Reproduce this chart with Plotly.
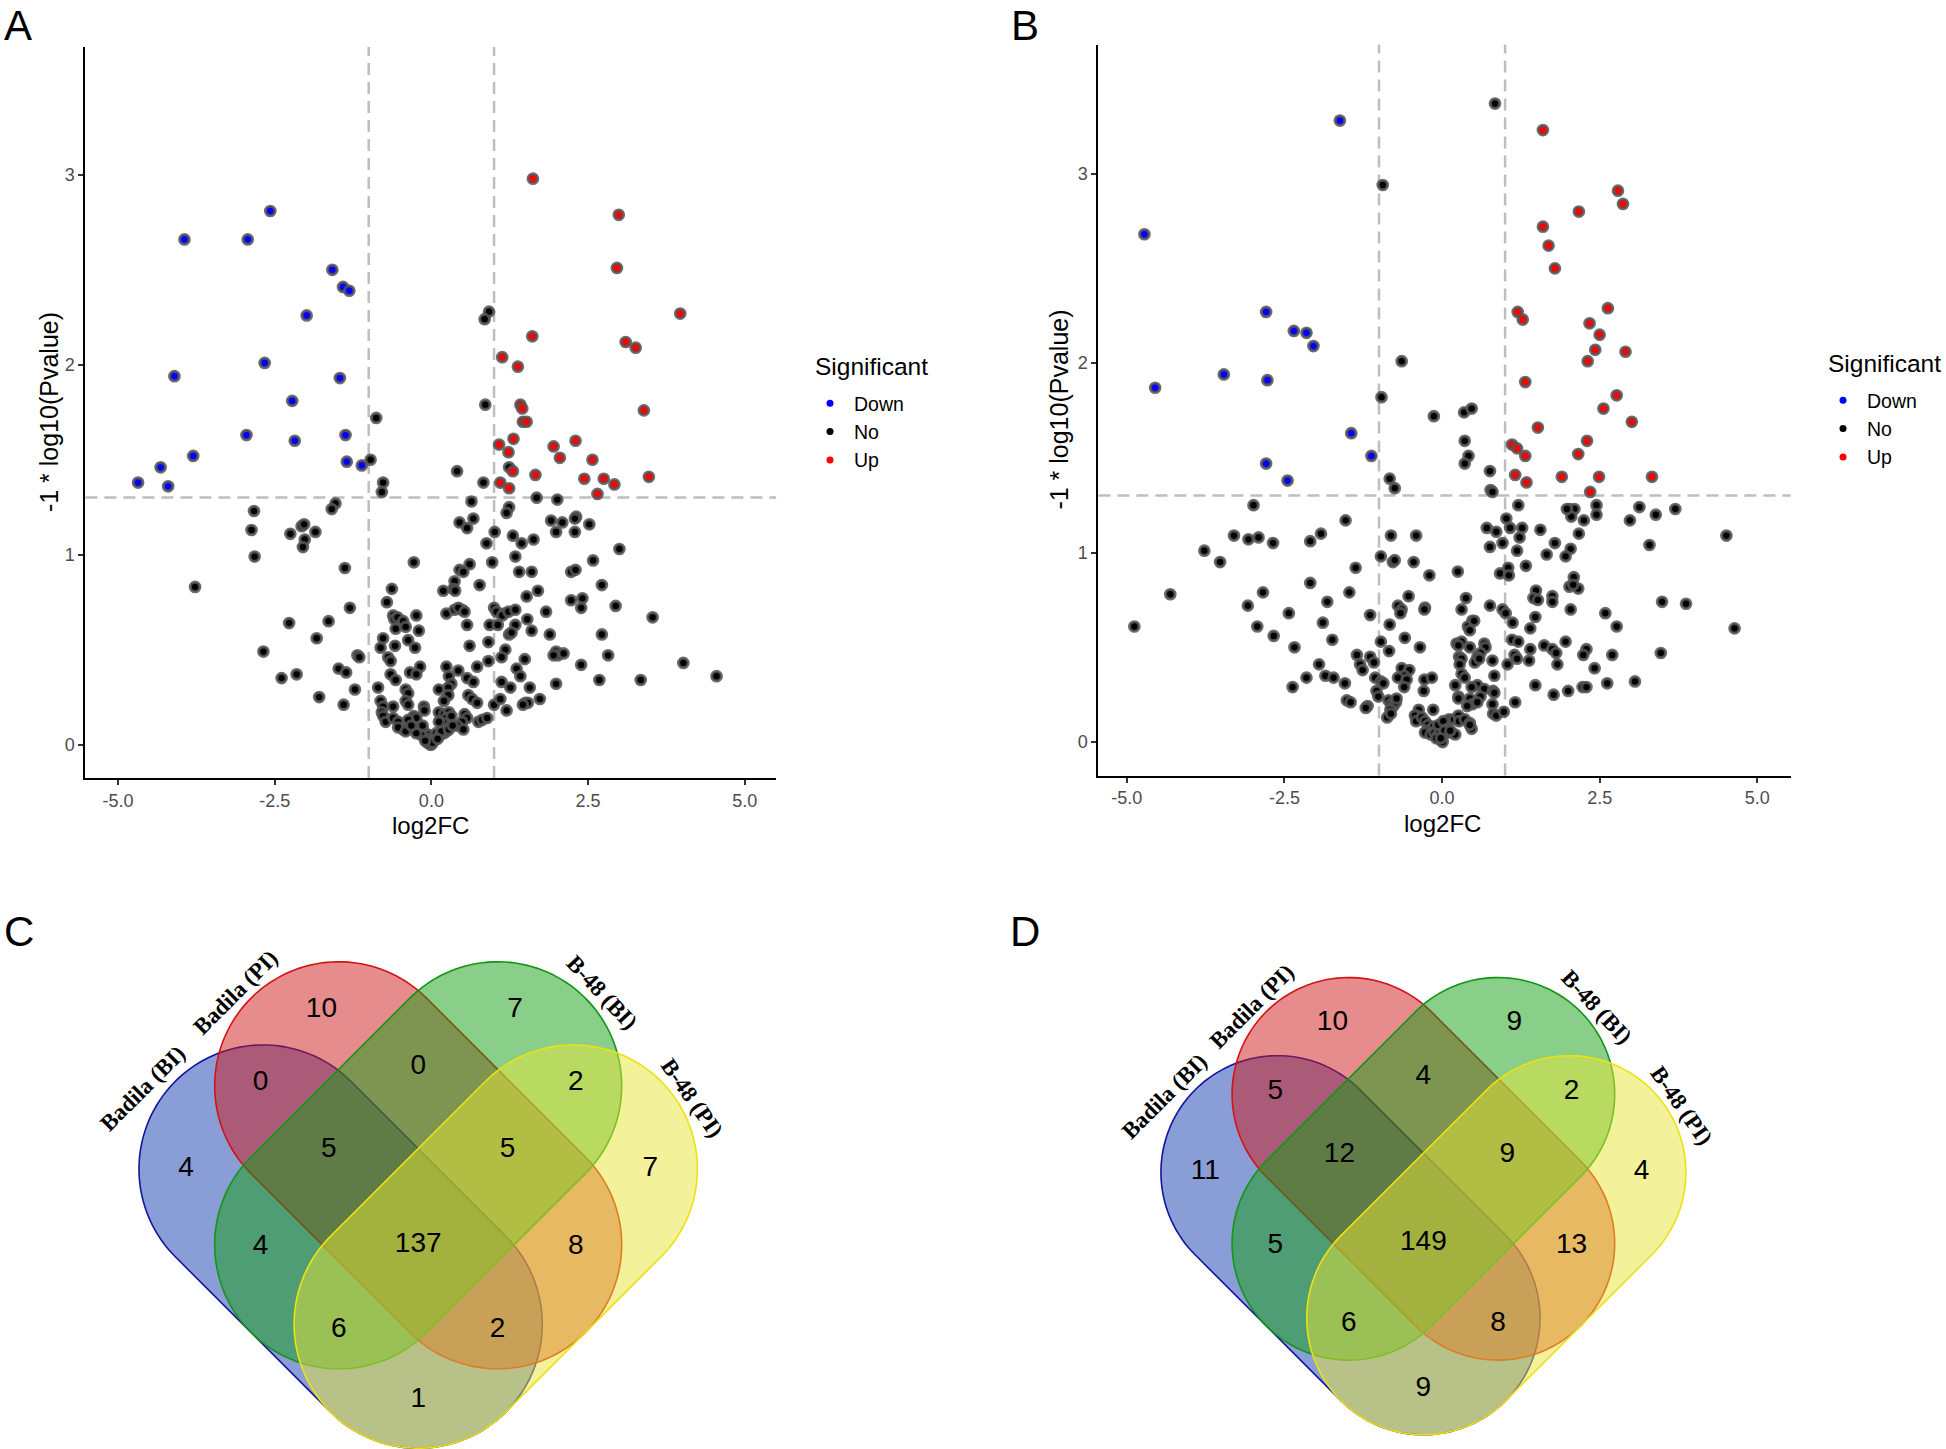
import numpy as np
import plotly.graph_objects as go

W, H = 1946, 1449

# ---------------- DATA ----------------
# Panel A volcano: (log2FC, -log10 P)
A_down = [(-3.94,2.66),(-2.93,2.66),(-2.57,2.81),(-1.58,2.50),(-1.41,2.41),(-1.31,2.39),(-1.99,2.26),
          (-2.66,2.01),(-4.10,1.94),(-1.46,1.93),(-2.22,1.81),(-2.95,1.63),(-2.18,1.60),(-1.37,1.63),
          (-3.80,1.52),(-4.32,1.46),(-4.68,1.38),(-4.20,1.36),(-1.35,1.49),(-1.11,1.47)]
A_up = [(1.62,2.98),(2.99,2.79),(2.96,2.51),(3.97,2.27),(1.61,2.15),(3.10,2.12),(3.26,2.09),(1.13,2.04),
        (1.38,1.99),(1.42,1.79),(1.45,1.77),(3.39,1.76),(1.46,1.70),(1.52,1.70),(1.31,1.61),(1.08,1.58),
        (1.23,1.54),(1.95,1.57),(2.30,1.60),(2.05,1.51),(2.57,1.50),(1.30,1.44),(1.66,1.42),(1.10,1.38),
        (1.24,1.35),(2.44,1.40),(2.75,1.40),(2.92,1.37),(3.47,1.41),(2.65,1.32)]
A_no = [(0.92,2.28),(0.85,2.24),(0.86,1.79),(-0.88,1.72),(-0.97,1.50),(-0.77,1.38),(-0.79,1.33),(0.41,1.44),
        (0.83,1.38),(1.24,1.46),
        (1.68,1.30),(2.01,1.29),(0.64,1.28),(-1.53,1.27),(-1.59,1.24),(-2.83,1.23),(1.24,1.25),(1.20,1.22),
        (2.31,1.20),(2.29,1.19),(1.91,1.18),(2.09,1.17),(2.52,1.16),(0.45,1.17),(0.67,1.19),(0.57,1.14),
        (-2.07,1.15),(-2.03,1.16),(-2.87,1.13),(-2.25,1.11),(-1.85,1.12),(-2.02,1.08),(-2.05,1.04),(1.01,1.12),
        (1.30,1.10),(1.99,1.12),(2.29,1.12),(1.63,1.08),(1.44,1.06),(0.88,1.06),(-2.82,0.99),(3.00,1.03),
        (1.34,0.99),(0.97,0.96),(2.58,0.97),(-0.28,0.96),(0.61,0.95),(-1.38,0.93),(0.45,0.92),(0.51,0.91),
        (1.40,0.91),(1.60,0.91),(2.23,0.91),(2.30,0.92),(-3.77,0.83),(0.77,0.84),(2.72,0.84),(0.37,0.86),
        (0.35,0.82),(0.19,0.81),(0.38,0.81),(-0.63,0.82),(1.70,0.81),(1.52,0.78),(2.23,0.76),(2.41,0.77),
        (2.39,0.72),(-0.71,0.75),(-1.30,0.72),(1.00,0.72),(1.04,0.70),(1.16,0.69),(1.13,0.68),(1.23,0.70),
        (1.34,0.71),(1.83,0.70),(2.94,0.73),(0.24,0.69),(0.37,0.71),(0.49,0.71),(0.43,0.72),(0.53,0.70),
        (-0.61,0.68),(-0.59,0.66),(-0.54,0.67),(-0.24,0.68),(3.53,0.67),(-2.27,0.64),(-1.64,0.65),(-0.57,0.61),
        (-0.45,0.65),(-0.41,0.62),(-0.20,0.60),(0.93,0.63),(1.06,0.63),(1.53,0.66),(1.34,0.63),(0.57,0.63),
        (1.60,0.60),(1.24,0.58),(1.28,0.59),(1.89,0.58),(2.72,0.58),(-1.83,0.56),(-0.77,0.56),(-0.81,0.51),
        (-0.58,0.52),(-0.37,0.55),(-0.26,0.51),(0.61,0.52),(0.91,0.54),(1.18,0.50),(-2.68,0.49),(1.99,0.49),
        (2.02,0.47),(2.11,0.48),(1.95,0.47),(-1.18,0.47),(-1.15,0.46),(-0.69,0.46),(-0.65,0.44),(1.12,0.46),
        (0.91,0.44),(1.49,0.45),(2.82,0.47),(2.39,0.42),(4.02,0.43),(0.24,0.41),(0.43,0.39),(0.73,0.41),
        (-0.18,0.41),(-1.48,0.40),(-1.36,0.38),(-0.34,0.38),(-0.24,0.37),(1.36,0.40),(1.42,0.36),(-2.39,0.35),
        (-2.15,0.37),(-0.65,0.37),(-0.57,0.34),(0.28,0.36),(0.32,0.32),(0.27,0.30),(0.57,0.35),(0.67,0.33),
        (4.55,0.36),(2.68,0.34),(3.34,0.34),(1.12,0.33),(1.99,0.32),(-0.85,0.30),(-1.22,0.29),(-0.41,0.29),
        (-0.37,0.27),(0.12,0.29),(1.26,0.30),(1.57,0.30),(-1.79,0.25),(-1.40,0.21),(0.59,0.26),(0.65,0.24),
        (0.73,0.22),(0.27,0.26),(0.20,0.23),(-0.81,0.23),(-0.77,0.20),(-0.79,0.17),(-0.61,0.20),(-0.41,0.23),
        (-0.37,0.21),(-0.12,0.20),(-0.11,0.18),(1.00,0.21),(1.10,0.24),(1.73,0.24),(1.50,0.22),(1.54,0.22),
        (1.46,0.21),(1.20,0.18),(-0.77,0.15),(-0.73,0.12),(-0.61,0.14),(-0.53,0.12),(-0.45,0.08),(0.12,0.17),
        (0.20,0.16),(0.28,0.17),(0.24,0.14),(0.32,0.15),(0.53,0.16),(0.57,0.14),(0.49,0.12),(0.75,0.12),
        (0.81,0.13),(0.89,0.14),(-0.28,0.15),(-0.24,0.14),(-0.37,0.13),(-0.53,0.09),(-0.41,0.07),(-0.28,0.09),
        (-0.20,0.07),(0.20,0.11),(0.28,0.09),(0.41,0.10),(0.51,0.08),(-0.12,0.07),(-0.04,0.05),(0.04,0.04),
        (0.00,0.02),(-0.08,0.03),(-0.16,0.05),(-0.24,0.06),(0.08,0.06),(0.14,0.05),(0.20,0.06),(0.24,0.07),
        (0.16,0.07),(0.28,0.08),(0.00,0.00),(-0.06,0.01),(0.04,0.02),(-0.02,0.00),(0.02,0.01),(0.10,0.03),
        (-0.10,0.02),(0.34,0.10),(-0.32,0.10),(0.12,0.12),(-0.14,0.10)]

# Panel B volcano
B_down = [(-1.62,3.28),(-4.72,2.68),(-2.79,2.27),(-2.35,2.17),(-2.15,2.16),(-2.04,2.09),(-3.46,1.94),
          (-4.55,1.87),(-2.77,1.91),(-1.44,1.63),(-1.12,1.51),(-2.79,1.47),(-2.45,1.38)]
B_up = [(1.60,3.23),(2.79,2.91),(2.87,2.84),(2.17,2.80),(1.60,2.72),(1.69,2.62),(1.79,2.50),(2.63,2.29),
        (1.20,2.27),(1.28,2.23),(2.34,2.21),(2.50,2.15),(2.43,2.07),(2.91,2.06),(2.31,2.01),(1.32,1.90),
        (2.77,1.83),(2.56,1.76),(3.01,1.69),(1.52,1.66),(2.30,1.59),(1.11,1.57),(1.19,1.55),(1.32,1.51),
        (2.16,1.52),(1.16,1.41),(1.34,1.37),(1.90,1.40),(2.49,1.40),(3.33,1.40),(2.35,1.32)]
B_no = [(0.84,3.37),(-0.94,2.94),(-0.64,2.01),(-0.96,1.82),(-0.13,1.72),(0.35,1.74),(0.47,1.76),(0.36,1.59),
        (0.42,1.51),(0.36,1.47),(0.76,1.43),(-0.83,1.39),(-0.75,1.34),(0.77,1.33),(0.80,1.32),
        (-2.99,1.25),(1.21,1.25),(2.02,1.23),(2.10,1.23),(2.05,1.19),(1.98,1.23),(2.45,1.25),(2.45,1.20),
        (3.13,1.24),(3.70,1.23),(3.39,1.20),(1.02,1.18),(2.25,1.17),(2.98,1.17),(-1.53,1.17),(0.71,1.13),
        (0.86,1.11),(1.08,1.13),(1.27,1.13),(1.23,1.08),(1.19,1.01),(1.56,1.12),(2.17,1.10),(-3.30,1.09),
        (-3.07,1.07),(-2.91,1.08),(-2.68,1.05),(-2.09,1.06),(-1.92,1.10),(-0.81,1.09),(-0.41,1.09),(0.96,1.05),
        (0.76,1.03),(1.79,1.05),(2.04,1.02),(3.29,1.04),(4.51,1.09),(-3.77,1.01),(1.66,0.99),(1.96,0.98),
        (-3.52,0.95),(-0.97,0.98),(-0.78,0.95),(-0.75,0.96),(-0.45,0.95),(1.33,0.93),(-1.37,0.92),(0.25,0.90),
        (-0.20,0.88),(0.92,0.89),(1.05,0.92),(1.06,0.88),(2.09,0.87),(-2.09,0.84),(2.02,0.82),(2.16,0.81),
        (2.08,0.83),(1.49,0.80),(1.45,0.76),(1.52,0.75),(1.75,0.77),(-4.31,0.78),(-2.84,0.79),(-1.47,0.79),
        (-0.53,0.77),(0.38,0.76),(-1.82,0.74),(3.49,0.74),(3.87,0.73),(-3.08,0.72),(-0.70,0.72),(-0.64,0.70),
        (-0.66,0.68),(-0.27,0.71),(-0.28,0.70),(0.76,0.72),(0.96,0.70),(1.01,0.68),(0.31,0.70),(1.75,0.74),
        (2.04,0.70),(2.59,0.68),(-2.43,0.68),(-1.14,0.67),(0.48,0.64),(0.41,0.61),(0.44,0.59),(0.51,0.64),
        (1.48,0.66),(2.77,0.61),(4.64,0.60),(-4.88,0.61),(-2.93,0.61),(-1.89,0.63),(-0.83,0.62),(1.12,0.63),
        (1.40,0.60),(-2.67,0.56),(-0.97,0.53),(-1.74,0.54),(-0.59,0.55),(0.23,0.52),(0.31,0.53),(0.26,0.51),
        (0.67,0.52),(0.69,0.50),(1.11,0.54),(1.21,0.53),(1.62,0.51),(1.75,0.49),(1.81,0.47),(1.40,0.49),
        (1.96,0.53),(2.29,0.49),(2.24,0.46),(3.47,0.47),(-2.34,0.50),(-0.84,0.48),(-0.35,0.50),(0.44,0.50),
        (-1.35,0.46),(-1.14,0.45),(-1.08,0.42),(0.27,0.45),(0.31,0.44),(0.28,0.41),(0.61,0.47),(0.56,0.45),
        (0.52,0.42),(0.59,0.44),(0.80,0.43),(1.15,0.46),(1.19,0.44),(1.38,0.43),(2.70,0.46),(-1.95,0.41),
        (-1.30,0.41),(-1.26,0.38),(-0.64,0.39),(-0.52,0.38),(-0.60,0.35),(1.04,0.41),(1.83,0.41),(2.42,0.39),
        (-2.15,0.34),(-1.85,0.35),(-1.72,0.34),(-1.54,0.31),(-1.06,0.34),(-0.97,0.32),(-0.93,0.31),(-0.70,0.34),
        (-0.56,0.33),(-0.60,0.29),(-0.28,0.33),(-0.16,0.34),(0.31,0.36),(0.36,0.34),(0.83,0.35),(0.56,0.30),
        (0.67,0.28),(0.21,0.30),(0.26,0.24),(0.47,0.29),(0.81,0.27),(0.83,0.26),(1.48,0.30),(2.00,0.27),
        (2.23,0.29),(2.29,0.29),(2.62,0.31),(3.06,0.32),(1.77,0.25),(-2.37,0.29),(-1.04,0.27),(-1.01,0.24),
        (-0.29,0.27),(-1.51,0.22),(-1.45,0.21),(-1.18,0.19),(-1.21,0.18),(-0.85,0.22),(-0.81,0.20),(-0.77,0.19),
        (-0.73,0.21),(-0.72,0.23),(-0.82,0.17),(-0.87,0.13),(-0.81,0.15),(0.44,0.23),(0.48,0.20),(0.40,0.19),
        (0.26,0.23),(0.61,0.24),(0.56,0.21),(0.80,0.20),(0.81,0.15),(0.86,0.14),(0.98,0.16),(1.16,0.21),
        (-0.37,0.17),(-0.41,0.14),(-0.14,0.17),(0.11,0.12),(0.19,0.12),(0.26,0.14),(0.27,0.11),(0.36,0.12),
        (0.44,0.10),(0.47,0.07),(0.44,0.09),(-0.43,0.14),(-0.41,0.11),(-0.32,0.13),(-0.27,0.11),(-0.22,0.09),
        (-0.14,0.08),(-0.24,0.06),(-0.27,0.05),(-0.18,0.04),(-0.12,0.05),(-0.06,0.09),(0.02,0.11),(0.09,0.07),
        (-0.06,0.04),(0.01,0.03),(0.07,0.05),(-0.02,0.01),(0.04,0.06),(0.15,0.05),(0.21,0.04),(0.13,0.06),
        (0.01,0.00),(-0.09,0.02),(-0.02,0.02)]

x_ticks = [-5.0, -2.5, 0.0, 2.5, 5.0]
x_tick_labels = ["-5.0", "-2.5", "0.0", "2.5", "5.0"]
y_ticks = [0, 1, 2, 3]
fc_cut = 1.0
p_cut = 1.30103  # -log10(0.05)
legend_labels = ["Down", "No", "Up"]

# Venn diagrams
set_names = ["Badila (BI)", "Badila (PI)", "B-48 (BI)", "B-48 (PI)"]
region_names = ["PI only", "B48BI only", "BI&PI", "PI&B48BI", "B48BI&B48PI", "BI only", "BI&PI&B48BI",
                "PI&B48BI&B48PI", "B48PI only", "BI&B48BI", "all", "PI&B48PI", "BI&B48BI&B48PI",
                "BI&PI&B48PI", "BI&B48PI"]
counts_C = [10, 7, 0, 0, 2, 4, 5, 5, 7, 4, 137, 8, 6, 2, 1]
counts_D = [10, 9, 5, 4, 2, 11, 12, 9, 4, 5, 149, 13, 6, 8, 9]

# ---------------- LAYOUT GEOMETRY ----------------
region_xy = [(-0.78,1.56),(0.78,1.56),(-1.27,0.97),(0.0,1.10),(1.27,0.97),(-1.87,0.28),(-0.72,0.43),
             (0.72,0.43),(1.87,0.28),(-1.27,-0.35),(0.0,-0.33),(1.27,-0.35),(-0.64,-1.02),(0.64,-1.02),(0.0,-1.58)]
capsules = [((-1.25,0.28),(0.0,-0.97)), ((-0.64,0.95),(0.64,-0.33)),
            ((0.64,0.95),(-0.64,-0.33)), ((1.25,0.28),(0.0,-0.97))]
cap_r = 1.0
fills = ["rgba(19,59,173,0.5)", "rgba(205,25,25,0.5)", "rgba(19,157,19,0.5)", "rgba(231,229,55,0.5)"]
edges = ["rgb(20,20,160)", "rgb(210,20,20)", "rgb(20,150,20)", "rgb(235,225,20)"]
label_xy = [(-2.22,0.93,-45), (-1.47,1.70,-45), (1.48,1.70,47), (2.21,0.85,55)]


def px(x):
    return x / W


def py(y):
    return 1 - y / H


def capsule_path(c1, c2, r, n=72):
    c1 = np.array(c1, float); c2 = np.array(c2, float)
    u = (c2 - c1) / np.linalg.norm(c2 - c1)
    a = np.arctan2(u[1], u[0])
    t2 = np.linspace(a - np.pi / 2, a + np.pi / 2, n)
    t1 = np.linspace(a + np.pi / 2, a + 3 * np.pi / 2, n)
    pts = [c2 + r * np.array([np.cos(t), np.sin(t)]) for t in t2] + \
          [c1 + r * np.array([np.cos(t), np.sin(t)]) for t in t1]
    return "M " + " L ".join(f"{p[0]:.4f},{p[1]:.4f}" for p in pts) + " Z"


fig = go.Figure()
SANS = "Liberation Sans, Arial, sans-serif"
colors = {"Down": "#0000FF", "No": "#000000", "Up": "#FF0000"}

panels = [("x", "y", "legend", A_no, A_down, A_up), ("x2", "y2", "legend2", B_no, B_down, B_up)]
for xa, ya, lg, no, down, up in panels:
    for name, pts in [("No", no), ("Down", down), ("Up", up)]:
        xs = [p[0] for p in pts]; ys = [p[1] for p in pts]
        fig.add_trace(go.Scatter(x=xs, y=ys, mode="markers", xaxis=xa, yaxis=ya, showlegend=False,
                                 marker=dict(color=colors[name], size=9.5,
                                             line=dict(color="rgba(85,85,85,0.85)", width=3.2)),
                                 hoverinfo="skip"))
    for name in legend_labels:
        fig.add_trace(go.Scatter(x=[None], y=[None], mode="markers", xaxis=xa, yaxis=ya, name=name,
                                 legend=lg, showlegend=True, marker=dict(color=colors[name], size=7)))
    # threshold lines
    for xv in (-fc_cut, fc_cut):
        fig.add_shape(type="line", xref=xa, yref=ya + " domain", x0=xv, x1=xv, y0=0, y1=1, layer="below",
                      line=dict(color="#BEBEBE", width=2.5, dash="12px,7px"))
    fig.add_shape(type="line", xref=xa + " domain", yref=ya, x0=0, x1=1, y0=p_cut, y1=p_cut, layer="below",
                  line=dict(color="#BEBEBE", width=2.5, dash="12px,7px"))

# Venn diagrams
for xa, ya, counts in [("x3", "y3", counts_C), ("x4", "y4", counts_D)]:
    for (c1, c2), f, e in zip(capsules, fills, edges):
        fig.add_shape(type="path", xref=xa, yref=ya, path=capsule_path(c1, c2, cap_r), layer="below",
                      fillcolor=f, line=dict(color=e, width=1.6))
    fig.add_trace(go.Scatter(x=[p[0] for p in region_xy], y=[p[1] for p in region_xy],
                             text=[str(c) for c in counts], mode="text", xaxis=xa, yaxis=ya,
                             showlegend=False, hoverinfo="skip",
                             textfont=dict(family=SANS, size=28, color="black")))
    for name, (lx, ly, ang) in zip(set_names, label_xy):
        fig.add_annotation(x=lx, y=ly, xref=xa, yref=ya, text=f"<b>{name}</b>", showarrow=False,
                           textangle=ang, xanchor="center", yanchor="middle",
                           font=dict(family="Liberation Serif, Times New Roman, serif", size=23, color="black"))

axis_common = dict(showline=True, linecolor="black", linewidth=2, ticks="outside", ticklen=5,
                   tickwidth=1.6, tickcolor="#333333", showgrid=False, zeroline=False,
                   tickfont=dict(family=SANS, size=18, color="#4D4D4D"))
legend_common = dict(xanchor="left", yanchor="top", bgcolor="rgba(0,0,0,0)", itemwidth=38,
                     font=dict(family=SANS, size=19.5, color="black"), tracegroupgap=0)
fig.update_layout(
    width=W, height=H, margin=dict(l=0, r=0, t=0, b=0),
    paper_bgcolor="white", plot_bgcolor="white",
    xaxis=dict(domain=[0.04389, 0.39882], range=[-5.52, 5.50], anchor="y", tickvals=x_ticks,
               ticktext=x_tick_labels, **axis_common),
    yaxis=dict(domain=[0.46308, 0.96749], range=[-0.176, 3.673], anchor="x", tickvals=y_ticks, **axis_common),
    xaxis2=dict(domain=[0.56444, 0.92020], range=[-5.45, 5.53], anchor="y2", tickvals=x_ticks,
                ticktext=x_tick_labels, **axis_common),
    yaxis2=dict(domain=[0.46474, 0.96922], range=[-0.177, 3.681], anchor="x2", tickvals=y_ticks, **axis_common),
    xaxis3=dict(domain=[0, 0.5], range=[-3.370, 4.471], anchor="y3", visible=False),
    yaxis3=dict(domain=[0, 0.39268], range=[-1.976, 2.609], anchor="x3", visible=False),
    xaxis4=dict(domain=[0.5, 1], range=[-3.861, 4.480], anchor="y4", visible=False),
    yaxis4=dict(domain=[0, 0.39268], range=[-2.092, 2.786], anchor="x4", visible=False),
    legend=dict(x=px(806), y=py(384), **legend_common),
    legend2=dict(x=px(1819), y=py(381), **legend_common),
)

# axis titles, legend titles and panel letters
ann = [
    ("log2FC", 430.8, 825, 0, 24, "center"), ("log2FC", 1442, 823, 0, 24, "center"),
    ("-1 * log10(Pvalue)", 49.6, 412.5, -90, 25, "center"), ("-1 * log10(Pvalue)", 1058.6, 410, -90, 25, "center"),
    ("Significant", 813, 366, 0, 24.5, "left"), ("Significant", 1825.6, 363.6, 0, 24.5, "left"),
]
for t, x, y, a, s, xa in ann:
    fig.add_annotation(x=px(x), y=py(y), xref="paper", yref="paper", text=t, showarrow=False, textangle=a,
                       xanchor=xa, yanchor="middle", font=dict(family=SANS, size=s, color="black"))
for t, x, y, ya in [("A", 18, 0, "top"), ("B", 1025, 0, "top"), ("C", 19, 931, "middle"), ("D", 1025, 931, "middle")]:
    fig.add_annotation(x=px(x), y=py(y), xref="paper", yref="paper", text=t, showarrow=False,
                       xanchor="center", yanchor=ya, font=dict(family=SANS, size=42, color="black"))

fig.write_html("out.html", config={"displayModeBar": False},
               post_script="document.body.style.margin='0';document.body.style.overflow='hidden';")
